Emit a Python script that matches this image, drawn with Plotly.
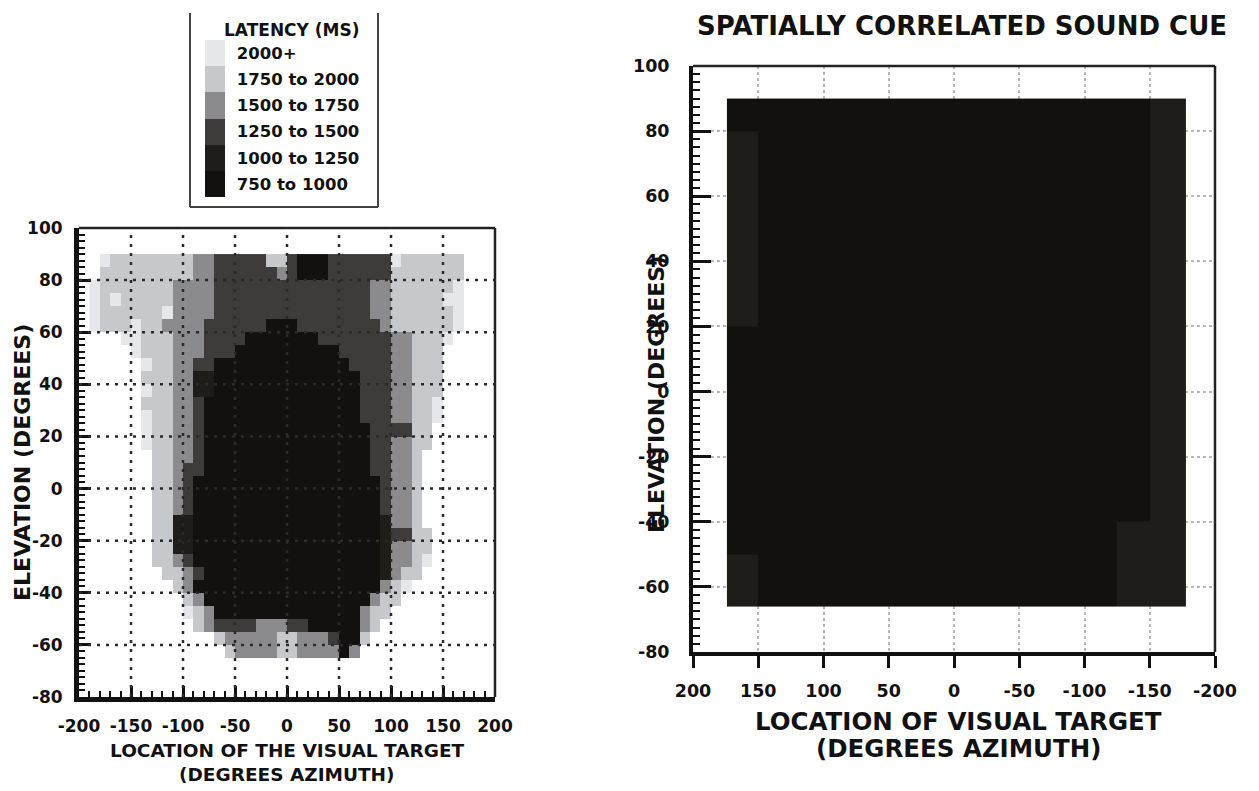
import plotly.graph_objects as go

# the page body has an 8px margin, so the figure is drawn 8px in from the window corner
OFF = 8
W, H = 1259 - OFF, 791 - OFF

# ---------------- data ----------------
# latency level codes: 0=750-1000, 1=1000-1250, 2=1250-1500, 3=1500-1750, 4=1750-2000, 5=2000+, '.'=no data
level_labels = ["750 to 1000", "1000 to 1250", "1250 to 1500", "1500 to 1750", "1750 to 2000", "2000+"]
level_colors = ["#131110", "#1f1d1a", "#3e3c3a", "#8b8b8e", "#c6c8cc", "#e6e7ea"]

# Left panel: azimuth bins of 10 deg (-190..190), elevation bins of 5 deg (90 down to -65)
az_edges_left = list(range(-190, 191, 10))
el_edges_left = list(range(-65, 91, 5))
latency_left_rows = [  # top (85..90) to bottom (-65..-60)
    ".54444444433222224420002222225444444..",
    ".44444444433222222320002222224444444..",
    "544444443333222222222222222334444445..",
    "545444443333222222222222222334444455..",
    "544444453333222222222222222334444445..",
    "544454433332222220002222222234444445..",
    "...55444333222200000002222222334445...",
    "....544433322200000000002222233444....",
    ".....54433220000000000000222233444....",
    ".....44433110000000000000022233444....",
    ".....54433110000000000000022233444....",
    ".....44433200000000000000022233445....",
    ".....54433200000000000000022233445....",
    ".....5443320000000000000000222244.....",
    ".....5443320000000000000000223344.....",
    "......44332000000000000000022334......",
    "......44322000000000000000022334......",
    "......44320000000000000000002334......",
    "......44320000000000000000002334......",
    "......44320000000000000000002334......",
    "......44110000000000000000001334......",
    "......441100000000000000000012244.....",
    "......441100000000000000000013344.....",
    "......443200000000000000000013345.....",
    ".......4432000000000000000001344......",
    "........43000000000000000000345.......",
    ".........430000000000000000344........",
    ".........54300000000000000344.........",
    "..........432222333220000034..........",
    "............433333443332004...........",
    ".............4333344333303............",
]

# Right panel: spatially correlated sound cue
az_edges_right = [-178, -150, -125, -100, -75, -50, -25, 0, 25, 50, 75, 100, 125, 150, 174]
el_edges_right = [-66, -60, -50, -40, -30, -20, -10, 0, 10, 20, 30, 40, 50, 60, 70, 80, 90]
latency_right_rows = [  # top (80..90) to bottom (-66..-60); columns in ascending azimuth
    "10000000000000",
    "10000000000001",
    "10000000000001",
    "10000000000001",
    "10000000000001",
    "10000000000001",
    "10000000000001",
    "10000000000000",
    "10000000000000",
    "10000000000000",
    "10000000000000",
    "10000000000000",
    "10000000000000",
    "11000000000000",
    "11000000000001",
    "11000000000001",
]

az_ticks = [-200, -150, -100, -50, 0, 50, 100, 150, 200]
az_tick_text = ["-200", "-150", "-100", "-50", "0", "50", "100", "150", "200"]
el_ticks = [-80, -60, -40, -20, 0, 20, 40, 60, 80, 100]
el_tick_text = ["-80", "-60", "-40", "-20", "0", "20", "40", "60", "80", "100"]
grid_az = [-150, -100, -50, 0, 50, 100, 150]
grid_el = [-60, -40, -20, 0, 20, 40, 60, 80]


def to_matrix(rows, ncols):
    m = []
    for r in rows:
        if len(r) != ncols:
            raise ValueError("row length %d != %d: %s" % (len(r), ncols, r))
        m.append([None if c == "." else int(c) for c in r])
    return m[::-1]  # bottom row first


z_left = to_matrix(latency_left_rows, len(az_edges_left) - 1)
z_right = to_matrix(latency_right_rows, len(az_edges_right) - 1)
assert len(z_left) == len(el_edges_left) - 1
assert len(z_right) == len(el_edges_right) - 1

n = len(level_colors)
colorscale = []
for i, c in enumerate(level_colors):
    colorscale.append([i / n, c])
    colorscale.append([(i + 1) / n, c])


def px(x):
    return (x - OFF) / W


def py(y):
    return 1 - (y - OFF) / H


FONT = "DejaVu Sans"
INK = "#111111"

fig = go.Figure()
fig.add_trace(go.Heatmap(
    x=az_edges_left, y=el_edges_left, z=z_left,
    xaxis="x", yaxis="y",
    colorscale=colorscale, zmin=-0.5, zmax=n - 0.5,
    hoverinfo="skip", showscale=True,
    colorbar=dict(
        x=px(205), xanchor="left", y=py(40), yanchor="top",
        lenmode="pixels", len=157, thicknessmode="pixels", thickness=20,
        tickmode="array", tickvals=list(range(n)), ticktext=level_labels,
        ticks="outside", ticklen=9, tickcolor="rgba(0,0,0,0)",
        tickfont=dict(family=FONT, size=16.5, color=INK, weight="bold"),
        outlinewidth=0, xpad=0, ypad=0, bgcolor="rgba(0,0,0,0)",
    ),
))
fig.add_trace(go.Heatmap(
    x=az_edges_right, y=el_edges_right, z=z_right,
    xaxis="x2", yaxis="y2",
    colorscale=colorscale, zmin=-0.5, zmax=n - 0.5,
    hoverinfo="skip", showscale=False,
))

tickfont_l = dict(family=FONT, size=17, color=INK, weight="bold")
tickfont_r = dict(family=FONT, size=17.5, color=INK, weight="bold")

fig.update_layout(
    width=W, height=H, autosize=False,
    margin=dict(l=0, r=0, t=0, b=0, autoexpand=False),
    paper_bgcolor="white", plot_bgcolor="white",
    showlegend=False,
    xaxis=dict(
        domain=[px(79), px(495)], range=[-200, 200], anchor="y",
        tickmode="array", tickvals=az_ticks, ticktext=az_tick_text, tickangle=0,
        ticks="inside", ticklen=11, tickwidth=3, tickcolor=INK,
        minor=dict(dtick=10, tick0=-200, ticks="inside", ticklen=6, tickwidth=2, tickcolor=INK, showgrid=False),
        showline=True, linewidth=5, linecolor=INK,
        showgrid=False, zeroline=False, tickfont=tickfont_l, ticklabelstandoff=10,
    ),
    yaxis=dict(
        domain=[py(697), py(228)], range=[-80, 100], anchor="x",
        tickmode="array", tickvals=el_ticks, ticktext=el_tick_text,
        ticks="inside", ticklen=12, tickwidth=3, tickcolor=INK,
        minor=dict(dtick=2.5, tick0=-80, ticks="inside", ticklen=6, tickwidth=2, tickcolor=INK, showgrid=False),
        showline=True, linewidth=5, linecolor=INK,
        showgrid=False, zeroline=False, tickfont=tickfont_l, ticklabelstandoff=8,
    ),
    xaxis2=dict(
        domain=[px(693), px(1215)], range=[200, -200], anchor="y2",
        tickmode="array", tickvals=az_ticks, ticktext=az_tick_text, tickangle=0,
        ticks="outside", ticklen=12, tickwidth=3, tickcolor=INK,
        showline=True, linewidth=4, linecolor=INK,
        showgrid=True, gridcolor="#b8b8b8", griddash="dot", gridwidth=1.5,
        zeroline=False, tickfont=tickfont_r, ticklabelstandoff=8,
    ),
    yaxis2=dict(
        domain=[py(652), py(66)], range=[-80, 100], anchor="x2",
        tickmode="array", tickvals=el_ticks, ticktext=el_tick_text,
        ticks="inside", ticklen=18, tickwidth=3, tickcolor=INK,
        minor=dict(dtick=2.5, tick0=-80, ticks="inside", ticklen=7, tickwidth=2, tickcolor=INK, showgrid=False),
        showline=True, linewidth=4, linecolor=INK,
        showgrid=True, gridcolor="#b8b8b8", griddash="dot", gridwidth=1.5,
        zeroline=False, tickfont=tickfont_r, ticklabelstandoff=16,
    ),
)

shapes = []
# thin top/right frame lines
for xa, ya in (("x", "y"), ("x2", "y2")):
    shapes.append(dict(type="line", xref=xa + " domain", yref=ya + " domain", x0=0, x1=1, y0=1, y1=1,
                       line=dict(color="#222", width=2.5), layer="above"))
    shapes.append(dict(type="line", xref=xa + " domain", yref=ya + " domain", x0=1, x1=1, y0=0, y1=1,
                       line=dict(color="#222", width=2.5), layer="above"))
# dotted grid drawn over the left map
for v in grid_az:
    shapes.append(dict(type="line", xref="x", yref="y domain", x0=v, x1=v, y0=0, y1=1,
                       line=dict(color="#2a2a2a", width=2.5, dash="3px,6px"), layer="above"))
for v in grid_el:
    shapes.append(dict(type="line", xref="x domain", yref="y", x0=0, x1=1, y0=v, y1=v,
                       line=dict(color="#2a2a2a", width=2.5, dash="3px,6px"), layer="above"))
# legend box
for (x0, y0, x1, y1) in ((190, 13, 190, 207), (378, 13, 378, 207), (190, 207, 378, 207)):
    shapes.append(dict(type="line", xref="paper", yref="paper", x0=px(x0), x1=px(x1), y0=py(y0), y1=py(y1),
                       line=dict(color="#444", width=2)))
fig.update_layout(shapes=shapes)


def ann(text, x, y, size, angle=0, xanchor="center"):
    return dict(text=text, x=px(x), y=py(y), xref="paper", yref="paper", showarrow=False,
                xanchor=xanchor, yanchor="middle", textangle=angle,
                font=dict(family=FONT, size=size, color=INK, weight="bold"))


fig.update_layout(annotations=[
    ann("LATENCY (MS)", 222, 30, 17, xanchor="left"),
    ann("LOCATION OF THE VISUAL TARGET", 287, 750, 18.5),
    ann("(DEGREES AZIMUTH)", 287, 774, 18.5),
    ann("ELEVATION (DEGREES)", 22, 463, 22, angle=-90),
    ann("SPATIALLY CORRELATED SOUND CUE", 962, 26, 26),
    ann("LOCATION OF VISUAL TARGET", 958, 721, 24.5),
    ann("(DEGREES AZIMUTH)", 958, 748, 24.5),
    ann("ELEVATION (DEGREES)", 657, 395, 22, angle=-90),
])

fig.write_html("out.html")
